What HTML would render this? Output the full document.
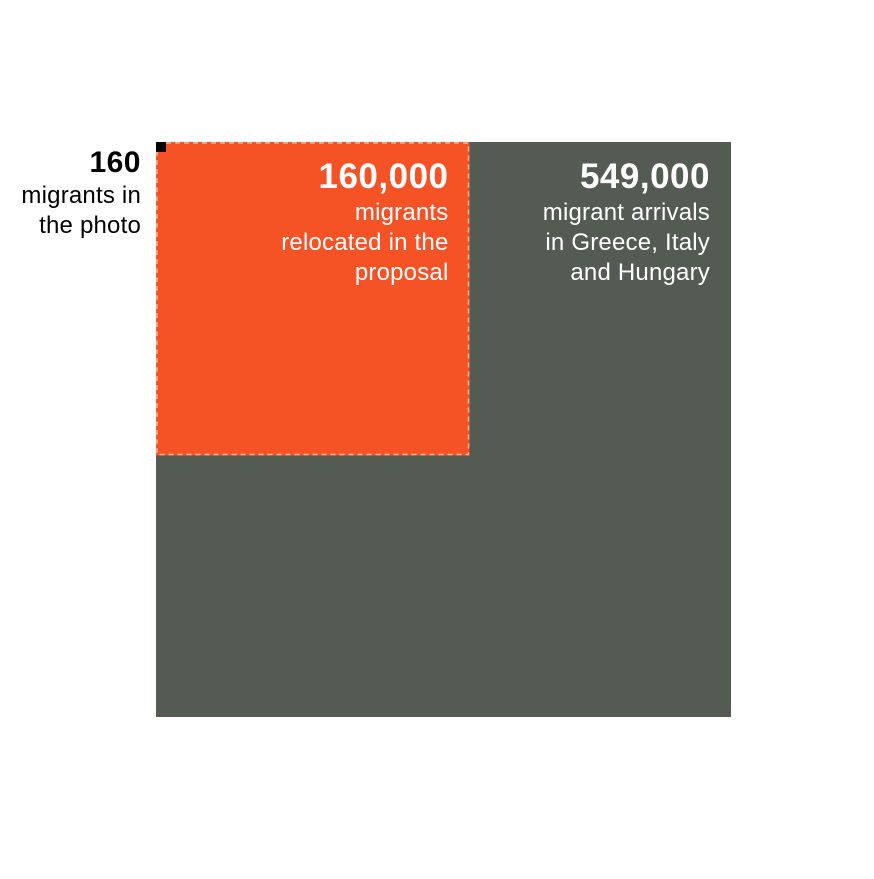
<!DOCTYPE html>
<html><head><meta charset="utf-8"><style>
body{margin:0;background:#fff;width:874px;height:874px;overflow:hidden}
svg text{font-family:"Liberation Sans",sans-serif}
</style></head><body>
<svg width="874" height="874">
<g id="g"></g>
</svg>
<script>
const labels=["549,000","160,000","160"];
const values=[549000,160000,160];
const fills=["#535b53","#f55226","#000000"];
const notes=[["migrant arrivals","in Greece, Italy","and Hungary"],["migrants","relocated in the","proposal"],["migrants in","the photo"]];
const names=["arrivals","relocated","photo"];
const ns="http://www.w3.org/2000/svg";
const g=document.getElementById('g');
const x0=156,y0=142,maxSide=575;
const side=v=>Math.sqrt(v/values[0])*maxSide;
function mk(t,a){const e=document.createElementNS(ns,t);for(const k in a)e.setAttribute(k,a[k]);g.appendChild(e);return e;}
values.forEach((v,i)=>{
  const s=Math.max(side(v)*(i===0?1:1.01),8);
  const r=mk('rect',{x:x0,y:y0,width:s,height:s,fill:fills[i]});
  
  
  if(i===1){
    const b=mk('rect',{x:x0+1,y:y0+1,width:s-2,height:s-2,fill:'none',stroke:'#f7b8a0','stroke-width':1.5,'stroke-dasharray':'5,4'});
    
    
  }
  const inside=i<2;
  const tx=inside? x0+s-21 : x0-15;
  const col=inside?'#fff':'#000';
  const t=mk('text',{x:tx,y:y0+(inside?46:30),'text-anchor':'end','font-size':inside?35:30,'font-weight':'bold','letter-spacing':0.5,fill:col});
  t.textContent=labels[i];
  
  
  notes[i].forEach((ln,j)=>{
    const n=mk('text',{x:tx,y:y0+(inside?78:61)+j*30,'text-anchor':'end','font-size':24,'letter-spacing':0.2,fill:col});
    n.textContent=ln;
    
    
  });
});
</script>
</body></html>
